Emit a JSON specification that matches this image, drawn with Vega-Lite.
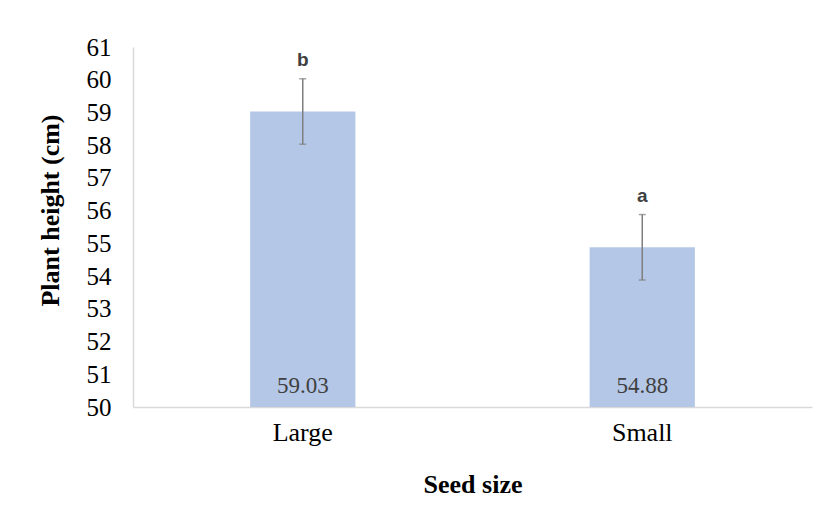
{
  "$schema": "https://vega.github.io/schema/vega-lite/v6.json",
  "autosize": {"type": "none"},
  "padding": {"left": 133, "top": 47, "right": 24, "bottom": 103},
  "width": 679,
  "height": 360,
  "background": "white",
  "config": {
    "view": {"stroke": null},
    "axisY": {
      "labelOverlap": false,
      "grid": false,
      "ticks": false,
      "labelFont": "Liberation Serif",
      "labelFontSize": 25,
      "labelColor": "black",
      "labelPadding": 22,
      "domainColor": "#d9d9d9",
      "domainWidth": 1.5,
      "titleFont": "Liberation Serif",
      "titleFontSize": 26,
      "titleFontWeight": "bold",
      "titleColor": "black",
      "titleAngle": -90,
      "titleAlign": "center",
      "titleBaseline": "middle",
      "titleX": -83,
      "titleY": 163
    }
  },
  "data": {
    "values": [
      {"size": "Large", "height": 59.03, "sd": 1.0, "group": "b"},
      {"size": "Small", "height": 54.88, "sd": 1.0, "group": "a"}
    ]
  },
  "transform": [
    {"calculate": "datum.height - datum.sd", "as": "lo"},
    {"calculate": "datum.height + datum.sd", "as": "hi"}
  ],
  "encoding": {
    "x": {
      "field": "size",
      "type": "nominal",
      "sort": ["Large", "Small"],
      "scale": {"paddingInner": 0.69, "paddingOuter": 0.345},
      "axis": {
        "title": "Seed size",
        "labelAngle": 0,
        "labelFont": "Liberation Serif",
        "labelFontSize": 26,
        "labelColor": "black",
        "labelBaseline": "alphabetic",
        "labelPadding": 33,
        "ticks": false,
        "domainColor": "#d9d9d9",
        "domainWidth": 1.5,
        "titleFont": "Liberation Serif",
        "titleFontSize": 26,
        "titleFontWeight": "bold",
        "titleColor": "black",
        "titleBaseline": "alphabetic",
        "titleY": 85
      }
    }
  },
  "layer": [
    {
      "mark": {"type": "bar", "color": "#b4c7e7"},
      "encoding": {
        "y": {
          "field": "height",
          "type": "quantitative",
          "scale": {"domain": [50, 61], "zero": false, "nice": false},
          "axis": {"title": "Plant height (cm)", "values": [50, 51, 52, 53, 54, 55, 56, 57, 58, 59, 60, 61], "labelOverlap": false}
        },
        "y2": {"datum": 50}
      }
    },
    {
      "mark": {"type": "rule", "color": "#7f7f7f", "strokeWidth": 1.5},
      "encoding": {
        "y": {"field": "lo", "type": "quantitative", "axis": {"title": "Plant height (cm)", "values": [50, 51, 52, 53, 54, 55, 56, 57, 58, 59, 60, 61], "labelOverlap": false}},
        "y2": {"field": "hi"}
      }
    },
    {
      "mark": {"type": "tick", "color": "#7f7f7f", "orient": "horizontal", "size": 7, "thickness": 1.5},
      "encoding": {"y": {"field": "lo", "type": "quantitative", "axis": {"title": "Plant height (cm)", "values": [50, 51, 52, 53, 54, 55, 56, 57, 58, 59, 60, 61], "labelOverlap": false}}}
    },
    {
      "mark": {"type": "tick", "color": "#7f7f7f", "orient": "horizontal", "size": 7, "thickness": 1.5},
      "encoding": {"y": {"field": "hi", "type": "quantitative", "axis": {"title": "Plant height (cm)", "values": [50, 51, 52, 53, 54, 55, 56, 57, 58, 59, 60, 61], "labelOverlap": false}}}
    },
    {
      "mark": {"type": "text", "font": "Liberation Sans", "fontSize": 19, "fontWeight": "bold", "color": "#404040", "baseline": "alphabetic", "dy": -13},
      "encoding": {
        "y": {"field": "hi", "type": "quantitative", "axis": {"title": "Plant height (cm)", "values": [50, 51, 52, 53, 54, 55, 56, 57, 58, 59, 60, 61], "labelOverlap": false}},
        "text": {"field": "group"}
      }
    },
    {
      "mark": {"type": "text", "font": "Liberation Serif", "fontSize": 23, "color": "#404040", "baseline": "alphabetic", "dy": -14},
      "encoding": {
        "y": {"datum": 50, "axis": {"title": "Plant height (cm)", "values": [50, 51, 52, 53, 54, 55, 56, 57, 58, 59, 60, 61], "labelOverlap": false}},
        "text": {"field": "height", "format": ".2f"}
      }
    }
  ]
}
